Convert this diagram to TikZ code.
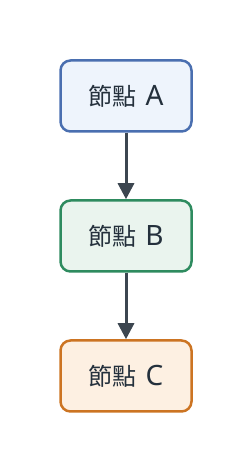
\documentclass[tikz,border=0pt]{standalone}
\usepackage{fontspec}
\newfontfamily\cjk{Noto Sans CJK TC}
\newfontfamily\latinf{Noto Sans}
\usetikzlibrary{arrows.meta}
\definecolor{aborder}{HTML}{4A6FB0}
\definecolor{afill}{HTML}{EEF4FC}
\definecolor{bborder}{HTML}{2E8B5F}
\definecolor{bfill}{HTML}{EAF4EE}
\definecolor{cborder}{HTML}{CC7422}
\definecolor{cfill}{HTML}{FDF0E2}
\definecolor{arrowc}{HTML}{3C4650}
\definecolor{textc}{HTML}{24303C}
\newcommand{\lbl}[1]{{\cjk\fontsize{24}{28}\selectfont 節點}\hspace{9pt}{\latinf\fontsize{28}{28}\selectfont #1}}
\tikzset{
  nodebox/.style={draw, line width=2.5pt, rounded corners=10pt, minimum width=131pt, minimum height=71pt, inner sep=0pt, text=textc},
  conn/.style={draw=arrowc, line width=3pt, -{Triangle[length=16pt,width=16pt]}}
}
\begin{document}
\begin{tikzpicture}[x=1pt,y=1pt]
\useasboundingbox (0,0) rectangle (252,472);
\node[nodebox, draw=aborder, fill=afill] (a) at (126,376) {\lbl{A}};
\node[nodebox, draw=bborder, fill=bfill] (b) at (126,236) {\lbl{B}};
\node[nodebox, draw=cborder, fill=cfill] (c) at (126,96) {\lbl{C}};
\draw[conn] (a) -- (b);
\draw[conn] (b) -- (c);
\end{tikzpicture}
\end{document}
